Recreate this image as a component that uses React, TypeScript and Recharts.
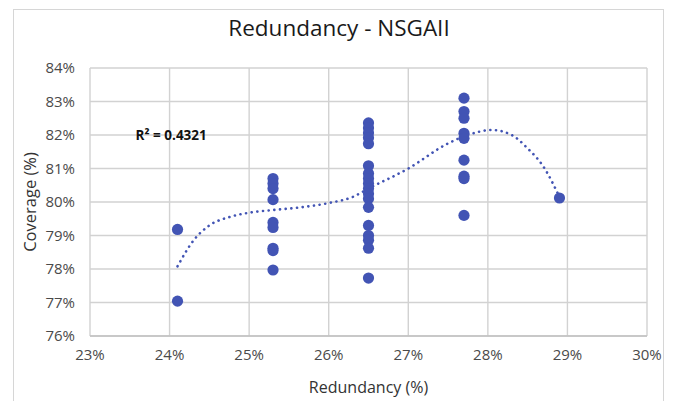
import {
  ScatterChart,
  Scatter,
  XAxis,
  YAxis,
  CartesianGrid,
  ReferenceDot,
} from 'recharts';

// redundancy columns (%), each with the coverage values
const redundancyLevels = [24.1, 25.3, 26.5, 27.7, 28.9];
const coverageAt241 = [79.18, 77.04];
const coverageAt253 = [80.7, 80.55, 80.4, 80.07, 79.39, 79.24, 78.62, 78.55, 77.97];
const coverageAt265 = [
  82.36, 82.21, 82.06, 81.92, 81.74, 81.08, 80.85, 80.7, 80.55, 80.4, 80.25,
  80.1, 79.84, 79.3, 79.0, 78.86, 78.62, 77.73,
];
const coverageAt277 = [83.1, 82.7, 82.5, 82.05, 81.9, 81.25, 80.77, 80.7, 79.6];
const coverageAt289 = [80.12];

// polynomial trendline
const trendX = [24.1, 24.3, 24.5, 24.75, 25.0, 25.3, 25.65, 26.0, 26.3, 26.5, 27.0, 27.5, 27.75, 28.05, 28.3, 28.5, 28.7, 28.9];
const trendY = [78.08, 78.85, 79.3, 79.55, 79.68, 79.76, 79.84, 79.97, 80.15, 80.4, 81.0, 81.75, 82.0, 82.15, 82.0, 81.6, 81.05, 80.15];

const xTicks = [23, 24, 25, 26, 27, 28, 29, 30];
const yTicks = [76, 77, 78, 79, 80, 81, 82, 83, 84];

const BLUE = '#4254b4';
const FONT = '"Open Sans", sans-serif';
const TICK = { fontSize: 15, fill: '#4a4a4a', fontFamily: FONT };

const columns = [coverageAt241, coverageAt253, coverageAt265, coverageAt277, coverageAt289];
const points = columns.flatMap((col, i) =>
  col.map((c) => ({ x: redundancyLevels[i], y: c }))
);
const trend = trendX.map((x, i) => ({ x, y: trendY[i] }));

const pct = (v: number) => `${v}%`;

export default function App() {
  return (
    <div
      style={{
        position: 'absolute',
        left: 0,
        top: 0,
        width: 674,
        height: 401,
        background: '#fff',
        fontFamily: FONT,
        overflow: 'hidden',
      }}
    >
      {/* chart area frame */}
      <div
        style={{
          position: 'absolute',
          left: 13,
          top: 9,
          width: 651,
          height: 420,
          border: '1.5px solid #d6d6d6',
          boxSizing: 'border-box',
        }}
      />
      <div
        style={{
          position: 'absolute',
          left: 0,
          width: 674,
          top: 12,
          textAlign: 'center',
          fontSize: 22.5,
          color: '#1a1a1a',
          paddingLeft: 2,
        }}
      >
        Redundancy - NSGAII
      </div>
      <div style={{ position: 'absolute', left: 0, top: 0 }}>
        <ScatterChart
          width={674}
          height={401}
          margin={{ top: 68, right: 27, bottom: 0, left: 13 }}
        >
          <CartesianGrid stroke="#d2d2d2" strokeWidth={1.4} />
          <XAxis
            type="number"
            dataKey="x"
            domain={[23, 30]}
            ticks={xTicks}
            tickFormatter={pct}
            height={65}
            tickSize={0}
            tickMargin={13}
            axisLine={{ stroke: '#c0c0c0', strokeWidth: 1.4 }}
            tick={TICK}
            label={{
              value: 'Redundancy (%)',
              position: 'insideBottom',
              offset: 8,
              style: { fontSize: 16, fill: '#333', fontFamily: FONT },
            }}
          />
          <YAxis
            type="number"
            dataKey="y"
            domain={[76, 84]}
            ticks={yTicks}
            tickFormatter={pct}
            width={77}
            tickSize={0}
            tickMargin={15}
            axisLine={false}
            tick={TICK}
            label={{
              value: 'Coverage (%)',
              angle: -90,
              position: 'insideLeft',
              offset: 17,
              style: { fontSize: 16.5, fill: '#333', fontFamily: FONT, textAnchor: 'middle' },
            }}
          />
          <Scatter
            data={trend}
            isAnimationActive={false}
            line={{
              stroke: BLUE,
              strokeWidth: 2.6,
              strokeDasharray: '0.1 5.6',
              strokeLinecap: 'round',
            }}
            lineJointType="monotoneX"
            shape={() => null}
          />
          <Scatter
            data={points}
            isAnimationActive={false}
            fill={BLUE}
            shape={(p: any) => <circle cx={p.cx} cy={p.cy} r={5.6} fill={BLUE} />}
          />
          <ReferenceDot
            x={24.02}
            y={82}
            r={0}
            label={{
              value: 'R² = 0.4321',
              position: 'center',
              style: { fontSize: 13.5, fontWeight: 700, fill: '#111', fontFamily: FONT },
            }}
          />
        </ScatterChart>
      </div>
    </div>
  );
}
